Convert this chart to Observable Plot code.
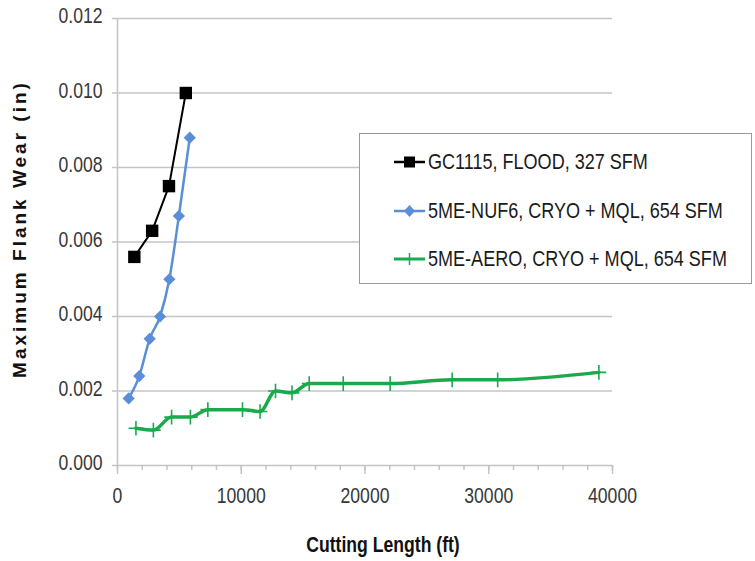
<!DOCTYPE html>
<html>
<head>
<meta charset="utf-8">
<script src="https://cdn.jsdelivr.net/npm/d3@7"></script>
<script src="https://cdn.jsdelivr.net/npm/@observablehq/plot@0.6"></script>
<style>
  body { margin: 0; background: #fff; }
  #wrap { position: relative; width: 755px; height: 561px; overflow: hidden; background: #fff; }
  .sans { font-family: 'Liberation Sans', Arial, sans-serif; }
  #ylab { position: absolute; left: 20px; top: 229px; transform: translate(-50%, -50%) rotate(-90deg);
          white-space: nowrap; font-weight: bold; font-size: 19px; letter-spacing: 3px; color: #111; }
  #xlab { position: absolute; left: 383px; top: 545px; transform: translate(-50%, -50%) scaleX(0.8);
          white-space: nowrap; font-weight: bold; font-size: 22px; color: #111; }
  #legend { position: absolute; left: 359px; top: 133px; width: 393px; height: 151px;
            box-sizing: border-box; border: 1.5px solid #9a9a9a; background: #fff; }
  .item { position: absolute; left: 0; height: 30px; width: 390px; }
  .item svg { position: absolute; left: 34px; top: 0; }
  .item span { position: absolute; left: 68px; top: 50%; transform: translateY(-50%) scaleX(0.82);
               transform-origin: left center; font-size: 22px; color: #1a1a1a; white-space: nowrap; }
</style>
</head>
<body>
<div id="wrap" class="sans"></div>
<script>
// ---- data ----
const seriesNames = [
  "GC1115, FLOOD, 327 SFM",
  "5ME-NUF6, CRYO + MQL, 654 SFM",
  "5ME-AERO, CRYO + MQL, 654 SFM"
];
const gcX = [1360, 2800, 4160, 5520];
const gcY = [0.0056, 0.0063, 0.0075, 0.0100];
const nufX = [900, 1760, 2600, 3440, 4190, 4960, 5840];
const nufY = [0.0018, 0.0024, 0.0034, 0.0040, 0.0050, 0.0067, 0.0088];
const aeroX = [1490, 2900, 4370, 5890, 7300, 10100, 11520, 12770, 14100, 15490, 18240, 22030, 27040, 30720, 38900];
const aeroY = [0.0010, 0.00095, 0.0013, 0.0013, 0.0015, 0.0015, 0.00145, 0.0020, 0.00195, 0.0022, 0.0022, 0.0022, 0.0023, 0.0023, 0.0025];
const xTicks = [0, 10000, 20000, 30000, 40000];
const xMinorTicks = d3.range(0, 40001, 2000);
const yTicks = [0, 0.002, 0.004, 0.006, 0.008, 0.010, 0.012];
const colors = ["#000000", "#5a8fd8", "#1aaa4c"];

const FONT = "'Liberation Sans', Arial, sans-serif";
const GRID = "#c4c4c4";

const toRows = (xs, ys) => xs.map((x, i) => ({x, y: ys[i]}));
const gc = toRows(gcX, gcY);
const nuf = toRows(nufX, nufY);
const aero = toRows(aeroX, aeroY);

const chart = Plot.plot({
  width: 755,
  height: 561,
  marginLeft: 117,
  marginRight: 143,
  marginTop: 18,
  marginBottom: 96,
  style: {fontFamily: FONT, fontSize: "22px", background: "#fff", color: "#333", overflow: "visible"},
  x: {domain: [0, 40000]},
  y: {domain: [0, 0.012]},
  marks: [
    Plot.gridY(yTicks.slice(1), {stroke: GRID, strokeOpacity: 1, strokeWidth: 1.5}),
    Plot.axisX(xMinorTicks, {tickSize: 5, tickFormat: () => "", stroke: GRID, strokeWidth: 1.5, label: null}),
    Plot.axisX(xTicks, {tickSize: 9, tickPadding: 14, tickFormat: d => String(d), stroke: GRID, strokeWidth: 1.5, fill: "#383838", label: null}),
    Plot.axisY(yTicks, {tickSize: 5, tickPadding: 10, tickFormat: d3.format(".3f"), stroke: GRID, strokeWidth: 1.5, fill: "#383838", label: null}),
    Plot.ruleX([0], {stroke: GRID, strokeWidth: 1.5}),
    Plot.ruleY([0], {stroke: GRID, strokeWidth: 1.5}),
    Plot.line(aero, {x: "x", y: "y", stroke: colors[2], strokeWidth: 3.5, curve: "monotone-x"}),
    Plot.dot(aero, {x: "x", y: "y", symbol: "plus", r: 4.8, stroke: colors[2], strokeWidth: 1.6}),
    Plot.line(nuf, {x: "x", y: "y", stroke: colors[1], strokeWidth: 2.5, curve: "monotone-x"}),
    Plot.dot(nuf, {x: "x", y: "y", symbol: "diamond2", r: 5.5, fill: colors[1], stroke: "none"}),
    Plot.line(gc, {x: "x", y: "y", stroke: colors[0], strokeWidth: 2}),
    Plot.dot(gc, {x: "x", y: "y", symbol: "square", r: 7, fill: colors[0], stroke: "none"})
  ]
});

// condense tick labels horizontally (the reference uses a narrow face) and nudge them
function condense(selector, dy) {
  d3.select(chart).selectAll(selector).each(function () {
    const t = d3.select(this);
    const x = +t.attr("x") || 0, y = +t.attr("y") || 0;
    const tr = t.attr("transform") || "";
    t.attr("x", null).attr("y", null)
     .attr("transform", `${tr} translate(${x},${y + dy}) scale(0.8,1)`);
  });
}
condense("g[aria-label='x-axis tick label'] text", 14);
condense("g[aria-label='y-axis tick label'] text", 4.5);

const wrap = document.getElementById("wrap");
wrap.appendChild(chart);

const ylab = document.createElement("div");
ylab.id = "ylab";
ylab.textContent = "Maximum Flank Wear (in)";
wrap.appendChild(ylab);

const xlab = document.createElement("div");
xlab.id = "xlab";
xlab.textContent = "Cutting Length (ft)";
wrap.appendChild(xlab);

// legend
const legend = document.createElement("div");
legend.id = "legend";
const symbols = ["square", "diamond", "plus"];
const rowCenters = [28, 77, 125];
seriesNames.forEach((name, i) => {
  const item = document.createElement("div");
  item.className = "item";
  item.style.top = (rowCenters[i] - 15) + "px";
  const c = colors[i];
  let marker = "";
  if (symbols[i] === "square") marker = `<rect x="10" y="9.5" width="11" height="11" fill="${c}"/>`;
  if (symbols[i] === "diamond") marker = `<path d="M15.5 9 L21 15 L15.5 21 L10 15 Z" fill="${c}"/>`;
  if (symbols[i] === "plus") marker = `<line x1="15.5" x2="15.5" y1="9" y2="21" stroke="${c}" stroke-width="1.5"/>`;
  const sw = i === 2 ? 3 : 2.5;
  item.innerHTML = `<svg width="32" height="30"><line x1="0" x2="31" y1="15" y2="15" stroke="${c}" stroke-width="${sw}"/>${marker}</svg><span>${name}</span>`;
  legend.appendChild(item);
});
wrap.appendChild(legend);
</script>
</body>
</html>
